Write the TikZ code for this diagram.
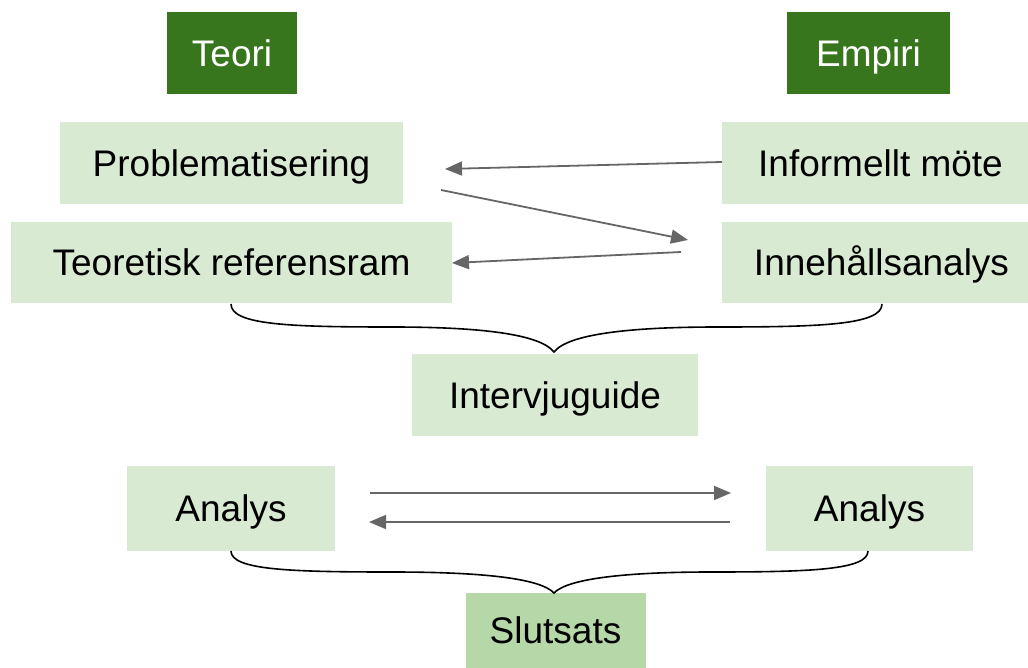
\documentclass[tikz,border=0pt]{standalone}
\usepackage{fontspec}
\setmainfont{Liberation Sans}
\usetikzlibrary{arrows.meta}
\definecolor{darkg}{HTML}{38761D}
\definecolor{lightg}{HTML}{D9EAD3}
\definecolor{midg}{HTML}{B6D7A8}
\definecolor{arrowgray}{HTML}{666666}
\tikzset{
  box/.style={rectangle, inner sep=0pt, fill=lightg, text=black,
    font=\fontsize{37}{40}\selectfont, text height=26.5pt, text depth=0pt},
  headbox/.style={box, fill=darkg, text=white},
  endbox/.style={box, fill=midg},
  conn/.style={draw=arrowgray, line width=1.8pt,
    -{Triangle[length=17pt,width=14pt]}},
  bracecurve/.style={draw=black, line width=1.6pt}
}
\begin{document}
\begin{tikzpicture}[x=1pt,y=-1pt]
\useasboundingbox (0,0) rectangle (1028,668);
% headings
\node[headbox, minimum width=130pt, minimum height=82pt] (teori) at (232,53) {Teori};
\node[headbox, minimum width=163pt, minimum height=82pt] (empiri) at (868.5,53) {Empiri};
% left column
\node[box, minimum width=343pt, minimum height=82pt] (prob) at (231.5,163) {Problematisering};
\node[box, minimum width=441pt, minimum height=81pt] (teoref) at (231.5,262.5) {Teoretisk referensram};
% right column
\node[box, minimum width=306pt, minimum height=82pt] (inform) at (875,163) {\hspace*{11pt}Informellt möte};
\node[box, minimum width=306pt, minimum height=81pt] (inneh) at (875,262.5) {\hspace*{13pt}Innehållsanalys};
% middle
\node[box, minimum width=286pt, minimum height=82pt] (intervju) at (555,395) {Intervjuguide};
\node[box, minimum width=208pt, minimum height=85pt] (analysL) at (231,508.5) {Analys};
\node[box, minimum width=207pt, minimum height=85pt] (analysR) at (869.5,508.5) {Analys};
\node[endbox, minimum width=180pt, minimum height=75pt] (slutsats) at (555.5,630.5) {Slutsats};

% arrow end coordinates
\coordinate (a1s) at (722,162);
\coordinate (a1e) at (445,169);
\coordinate (a2s) at (441,190);
\coordinate (a2e) at (688,240);
\coordinate (a3s) at (681,252);
\coordinate (a3e) at (452,263);
\coordinate (a4s) at (370,493);
\coordinate (a4e) at (731,493);
\coordinate (a5s) at (730,522);
\coordinate (a5e) at (369,522);
\draw[conn] (a1s) -- (a1e);
\draw[conn] (a2s) -- (a2e);
\draw[conn] (a3s) -- (a3e);
\draw[conn] (a4s) -- (a4e);
\draw[conn] (a5s) -- (a5e);

% upper brace
\coordinate (b1L) at (231,304);
\coordinate (b1T) at (554,352);
\coordinate (b1R) at (882,304);
\draw[bracecurve] (b1L) .. controls (231,325) and (290,327) .. (392,327)
  .. controls (480,327) and (540,334) .. (b1T)
  .. controls (568,334) and (630,327) .. (718,327)
  .. controls (820,327) and (882,325) .. (b1R);
% lower brace
\coordinate (b2L) at (231,551);
\coordinate (b2T) at (554,593);
\coordinate (b2R) at (868,551);
\draw[bracecurve] (b2L) .. controls (231,570) and (290,572) .. (392,572)
  .. controls (480,572) and (540,578) .. (b2T)
  .. controls (568,578) and (630,572) .. (711,572)
  .. controls (810,572) and (868,570) .. (b2R);
\end{tikzpicture}
\end{document}
